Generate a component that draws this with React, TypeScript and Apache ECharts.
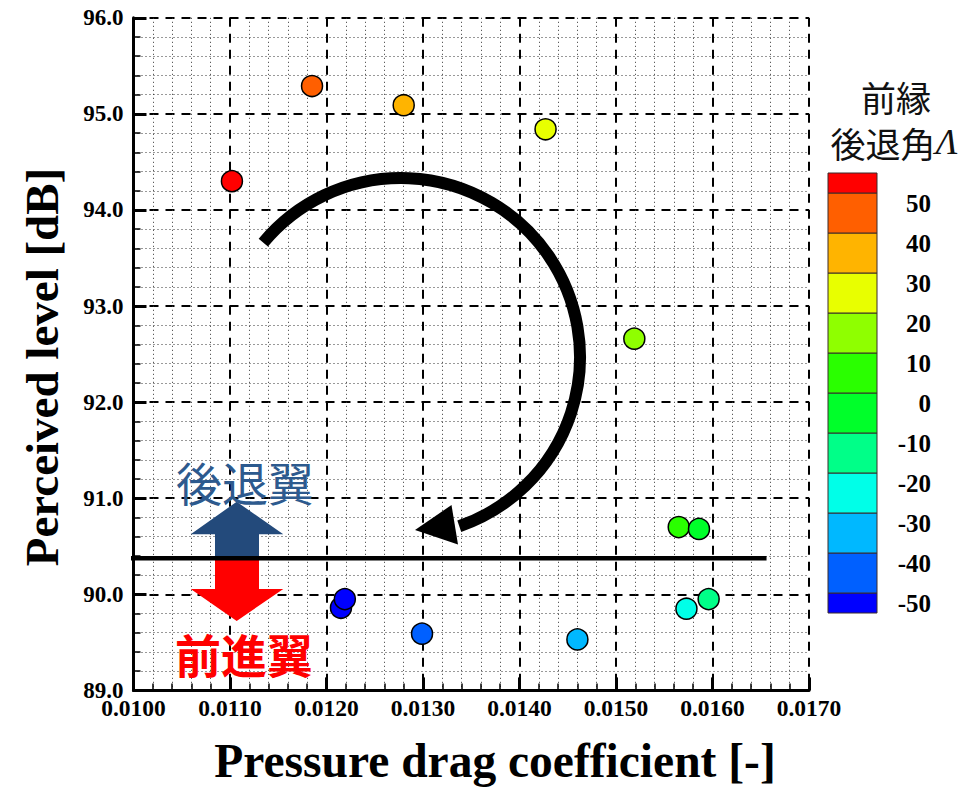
import React, { useEffect, useRef } from 'react';
import * as echarts from 'echarts';

// ---- data ----
const DRAG = [0.01102, 0.01185, 0.0128, 0.01427, 0.01519, 0.01565, 0.01586, 0.01596, 0.01573, 0.0146, 0.01299, 0.01215, 0.01219];
const LEVEL = [94.3, 95.29, 95.09, 94.84, 92.66, 90.7, 90.68, 89.95, 89.85, 89.53, 89.59, 89.86, 89.95];
const SWEEP = [55, 45, 35, 25, 15, 5, -5, -15, -25, -35, -45, -55, -55];

const X_MIN = 0.01, X_MAX = 0.017, X_STEP = 0.001;
const Y_MIN = 89, Y_MAX = 96, Y_STEP = 1;

const LEGEND_LEVELS = [-50, -40, -30, -20, -10, 0, 10, 20, 30, 40, 50];
const LEGEND_RANGE = [-55, 55];
const BAND_COLORS = ['#0000ff', '#0060ff', '#00b8ff', '#00ffe8', '#00ff88', '#00ff2a', '#2aff00', '#8fff00', '#e8ff00', '#ffb400', '#ff5f00', '#ff0000'];

const THRESHOLD_LEVEL = 90.375;
const THRESHOLD_X = [0.00987, 0.01656];

const X_TITLE = 'Pressure drag coefficient [-]';
const Y_TITLE = 'Perceived level [dB]';
const LEGEND_TITLE_1 = '前縁';
const LEGEND_TITLE_2 = '後退角';
const LABEL_UP = '後退翼';
const LABEL_DOWN = '前進翼';

export default function App() {
  const ref = useRef<HTMLDivElement>(null);
  useEffect(() => {
    if (!ref.current) return;
    const chart = echarts.init(ref.current, undefined, { renderer: 'svg' });

    const serif = '"Liberation Serif", "Times New Roman", serif';
    const cjk = '"Noto Sans CJK JP", sans-serif';

    // colorbar geometry
    const barX = 828, barW = 49, barTop = 173, barBottom = 613;
    const yOf = (v: number) => barTop + (LEGEND_RANGE[1] - v) / (LEGEND_RANGE[1] - LEGEND_RANGE[0]) * (barBottom - barTop);

    const pieces = BAND_COLORS.map((c, i) => {
      const p: any = { color: c };
      if (i > 0) p.gte = LEGEND_LEVELS[i - 1];
      if (i < BAND_COLORS.length - 1) p.lt = LEGEND_LEVELS[i];
      return p;
    });

    const center = { align: 'center', textAlign: 'center', verticalAlign: 'middle', textVerticalAlign: 'middle' };

    const graphics: any[] = [];
    BAND_COLORS.forEach((c, i) => {
      const lo = i === 0 ? LEGEND_RANGE[0] : LEGEND_LEVELS[i - 1];
      const hi = i === BAND_COLORS.length - 1 ? LEGEND_RANGE[1] : LEGEND_LEVELS[i];
      graphics.push({
        type: 'rect', z: 20,
        shape: { x: barX, y: yOf(hi), width: barW, height: yOf(lo) - yOf(hi) },
        style: { fill: c, stroke: '#3a2a2a', lineWidth: 1 },
      });
    });
    LEGEND_LEVELS.forEach((v) => {
      graphics.push({
        type: 'text', z: 20,
        style: {
          text: String(v), x: 931, y: yOf(v) + 10,
          fontSize: 25, fontWeight: 'bold', fontFamily: serif, fill: '#000',
          align: 'right', textAlign: 'right', verticalAlign: 'middle', textVerticalAlign: 'middle',
        },
      });
    });
    graphics.push({
      type: 'text', z: 20,
      style: { text: LEGEND_TITLE_1, x: 896, y: 96, fontSize: 35, fontFamily: cjk, fill: '#111', ...center },
    });
    graphics.push({
      type: 'text', z: 20,
      style: {
        text: '{a|' + LEGEND_TITLE_2 + '}{b|Λ}', x: 894, y: 142, ...center,
        rich: {
          a: { fontSize: 35, fontFamily: cjk, fill: '#111', color: '#111' },
          b: { fontSize: 36, fontFamily: serif, fontStyle: 'italic', fill: '#111', color: '#111' },
        },
      },
    });

    // axis titles
    graphics.push({
      type: 'text', z: 20,
      style: { text: X_TITLE, x: 495, y: 761, fontSize: 47.5, fontWeight: 'bold', fontFamily: serif, fill: '#000', ...center },
    });
    graphics.push({
      type: 'text', z: 20, x: 42, y: 367, rotation: Math.PI / 2,
      style: { text: Y_TITLE, x: 0, y: 0, fontSize: 47, fontWeight: 'bold', fontFamily: serif, fill: '#000', ...center },
    });

    // big curved arrow
    const cx = 401, cy = 357, r = 179;
    graphics.push({
      type: 'arc', z: 30,
      shape: { cx, cy, r, startAngle: (219.7 * Math.PI) / 180, endAngle: ((360 + 71) * Math.PI) / 180, clockwise: true },
      style: { stroke: '#000', lineWidth: 12, fill: 'none', lineCap: 'butt' },
    });
    graphics.push({
      type: 'polygon', z: 30,
      shape: { points: [[415, 530], [451.5, 505], [458, 544.5]] },
      style: { fill: '#000' },
    });

    // up / down arrows
    graphics.push({
      type: 'polygon', z: 3,
      shape: { points: [[190.7, 534.3], [236.7, 501.7], [283.3, 534.3], [259, 534.3], [259, 558.3], [215, 558.3], [215, 534.3]] },
      style: { fill: '#234a7b' },
    });
    graphics.push({
      type: 'polygon', z: 3,
      shape: { points: [[215, 558.3], [259, 558.3], [259, 589], [283.3, 589], [236.7, 621], [190.7, 589], [215, 589]] },
      style: { fill: '#ff0000' },
    });
    graphics.push({
      type: 'text', z: 3,
      style: { text: LABEL_UP, x: 245, y: 481, fontSize: 46, fontFamily: cjk, fill: '#2d5a8e', ...center },
    });
    graphics.push({
      type: 'text', z: 3,
      style: { text: LABEL_DOWN, x: 244, y: 653, fontSize: 46, fontWeight: 'bold', fontFamily: cjk, fill: '#ff0000', ...center },
    });

    const axisCommon = {
      axisLine: { show: true, onZero: false, lineStyle: { color: '#000', width: 3 } },
      axisTick: { show: true, inside: true, length: 13, lineStyle: { color: '#000', width: 3 } },
      minorTick: { show: true, splitNumber: 5, length: 7, lineStyle: { color: '#000', width: 1.5 } },
      splitLine: { show: true, lineStyle: { color: '#000', width: 2, type: [9, 7] } },
      minorSplitLine: { show: true, lineStyle: { color: '#333', width: 1, type: [1, 3] } },
    };

    chart.setOption({
      animation: false,
      backgroundColor: '#fff',
      grid: { left: 133.5, top: 17.8, right: 157, bottom: 97.6, containLabel: false, outerBoundsMode: 'none' },
      xAxis: {
        type: 'value', min: X_MIN, max: X_MAX, interval: X_STEP,
        ...axisCommon,
        axisLabel: {
          margin: 6, fontSize: 23.5, fontWeight: 'bold', fontFamily: serif, color: '#000',
          formatter: (v: number) => v.toFixed(4),
        },
      },
      yAxis: {
        type: 'value', min: Y_MIN, max: Y_MAX, interval: Y_STEP,
        ...axisCommon,
        axisLabel: {
          margin: 10, fontSize: 23, fontWeight: 'bold', fontFamily: serif, color: '#000',
          formatter: (v: number) => v.toFixed(1),
        },
      },
      visualMap: {
        type: 'piecewise', show: false, dimension: 2, seriesIndex: 0, pieces,
      },
      series: [
        {
          type: 'scatter', z: 10,
          data: DRAG.map((x, i) => [x, LEVEL[i], SWEEP[i]]),
          symbol: 'circle', symbolSize: 21,
          itemStyle: { borderColor: '#000', borderWidth: 1.5, opacity: 1 },
        },
        {
          type: 'line', z: 5, clip: false, silent: true, symbol: 'none',
          data: THRESHOLD_X.map((x) => [x, THRESHOLD_LEVEL]),
          lineStyle: { color: '#000', width: 4.5 },
        },
      ],
      graphic: graphics,
    });
    return () => chart.dispose();
  }, []);
  return <div ref={ref} style={{ position: 'fixed', left: 0, top: 0, width: 966, height: 788, background: '#fff' }} />;
}
